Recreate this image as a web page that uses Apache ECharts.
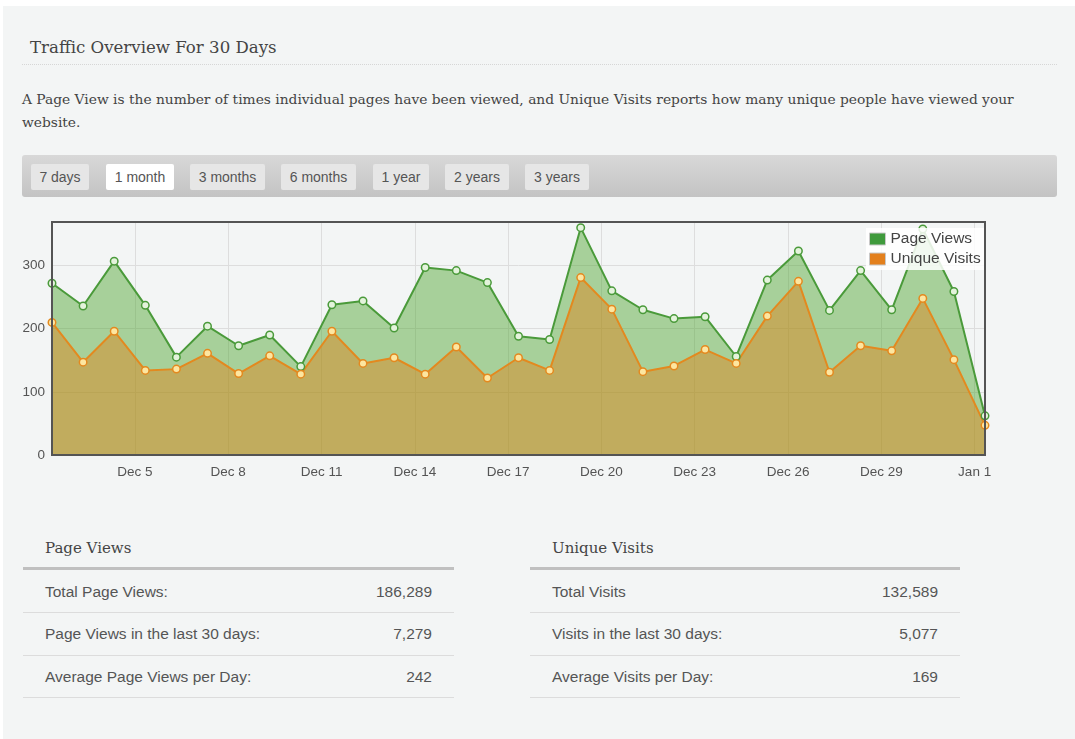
<!DOCTYPE html>
<html>
<head>
<meta charset="utf-8">
<script src="https://cdn.jsdelivr.net/npm/echarts@6/dist/echarts.min.js"></script>
<style>
html, body { margin: 0; padding: 0; width: 1075px; height: 739px; overflow: hidden; background: #f3f5f5; }
.abs { position: absolute; }
.serif { font-family: Georgia, 'DejaVu Serif', serif; color: #444; }
.sans { font-family: Arial, 'Liberation Sans', sans-serif; }
#title { left: 30px; top: 37px; font-size: 16.6px; line-height: 22px; white-space: nowrap; }
#rule { left: 22px; top: 64px; width: 1035px; height: 0; border-top: 1px dotted #d6d6d6; }
#para { left: 22px; top: 88px; font-size: 13.8px; line-height: 23px; white-space: nowrap; }
#toolbar { left: 22px; top: 155px; width: 1035px; height: 42px; border-radius: 3px;
  background: linear-gradient(#d8d8d8, #c3c3c3); }
.btn { top: 164px; height: 26px; line-height: 26px; text-align: center; font-size: 14px; color: #555;
  background: #e6e6e6; border-radius: 2px; }
.btn.active { background: #ffffff; }
#chart { left: 0; top: 200px; width: 1075px; height: 300px; }
.thead { font-size: 15px; line-height: 20px; }
.thick { height: 3px; background: #c0c0c0; }
.thin { height: 1px; background: #dcdcdc; }
.cell { font-size: 15.5px; color: #555; line-height: 20px; white-space: nowrap; }
</style>
</head>
<body>
<div class="abs" style="left:0;top:0;width:1075px;height:6px;background:#fff"></div>
<div class="abs" style="left:0;top:0;width:3px;height:739px;background:#fff"></div>
<div id="title" class="abs serif">Traffic Overview For 30 Days</div>
<div id="rule" class="abs"></div>
<div id="para" class="abs serif">A Page View is the number of times individual pages have been viewed, and Unique Visits reports how many unique people have viewed your<br>website.</div>
<div id="toolbar" class="abs"></div>
<div id="buttons"></div>
<div id="chart" class="abs"></div>
<div id="tables"></div>
<script>
// ---------- data ----------
const TZ_OFFSET_HOURS = 8;
const dates = ['2012-12-02','2012-12-03','2012-12-04','2012-12-05','2012-12-06','2012-12-07','2012-12-08',
  '2012-12-09','2012-12-10','2012-12-11','2012-12-12','2012-12-13','2012-12-14','2012-12-15','2012-12-16',
  '2012-12-17','2012-12-18','2012-12-19','2012-12-20','2012-12-21','2012-12-22','2012-12-23','2012-12-24',
  '2012-12-25','2012-12-26','2012-12-27','2012-12-28','2012-12-29','2012-12-30','2012-12-31','2013-01-01'];
const pageViews = [272,236,307,237,155,204,173,190,140,238,244,201,297,292,273,188,183,360,260,230,216,219,156,277,323,229,292,230,358,259,62];
const uniqueVisits = [210,147,196,134,136,161,129,157,128,196,145,154,128,171,122,154,134,281,231,132,141,167,145,220,275,131,173,165,248,151,47];
const xTickDates = ['2012-12-05','2012-12-08','2012-12-11','2012-12-14','2012-12-17','2012-12-20','2012-12-23','2012-12-26','2012-12-29','2013-01-01'];
const yTicks = [0, 100, 200, 300];
const yMax = 369;
const seriesNames = ['Page Views', 'Unique Visits'];
const rangeButtons = ['7 days', '1 month', '3 months', '6 months', '1 year', '2 years', '3 years'];
const activeButton = '1 month';
const pageViewStats = [['Total Page Views:', '186,289'], ['Page Views in the last 30 days:', '7,279'], ['Average Page Views per Day:', '242']];
const visitStats = [['Total Visits', '132,589'], ['Visits in the last 30 days:', '5,077'], ['Average Visits per Day:', '169']];
const MONTHS = ['Jan','Feb','Mar','Apr','May','Jun','Jul','Aug','Sep','Oct','Nov','Dec'];

// ---------- layout (HTML parts) ----------
const btnBoxes = [[31,58],[106,68],[190,75],[281,75],[373,56],[445,64],[525,64]];
const btnHost = document.getElementById('buttons');
rangeButtons.forEach((t, i) => {
  const d = document.createElement('div');
  d.className = 'abs sans btn' + (t === activeButton ? ' active' : '');
  d.style.left = btnBoxes[i][0] + 'px';
  d.style.width = btnBoxes[i][1] + 'px';
  d.textContent = t;
  btnHost.appendChild(d);
});

function buildTable(heading, rows, x0, width) {
  const host = document.getElementById('tables');
  const add = (cls, style, text) => {
    const d = document.createElement('div');
    d.className = 'abs ' + cls;
    Object.assign(d.style, style);
    if (text != null) d.textContent = text;
    host.appendChild(d);
  };
  add('serif thead', { left: (x0 + 22) + 'px', top: '538px' }, heading);
  add('thick', { left: x0 + 'px', top: '567px', width: width + 'px' });
  const rowCenters = [592, 634, 677];
  const dividers = [612, 655, 697];
  rows.forEach((r, i) => {
    add('sans cell', { left: (x0 + 22) + 'px', top: (rowCenters[i] - 10) + 'px' }, r[0]);
    add('sans cell', { left: x0 + 'px', width: (width - 22) + 'px', textAlign: 'right', top: (rowCenters[i] - 10) + 'px' }, r[1]);
    add('thin', { left: x0 + 'px', top: dividers[i] + 'px', width: width + 'px' });
  });
}
buildTable('Page Views', pageViewStats, 23, 431);
buildTable('Unique Visits', visitStats, 530, 430);

// ---------- chart ----------
const dayStart = s => Date.parse(s + 'T00:00:00Z');
const toTs = s => dayStart(s) + TZ_OFFSET_HOURS * 3600 * 1000;
const xTicks = xTickDates.map(dayStart);
const fmtDate = v => { const d = new Date(v); return MONTHS[d.getUTCMonth()] + ' ' + d.getUTCDate(); };

const chart = echarts.init(document.getElementById('chart'), null, { renderer: 'canvas' });
const labelStyle = { color: '#545454', fontSize: 13.5, fontFamily: 'Arial, "Liberation Sans", sans-serif' };
const gridLine = { show: true, lineStyle: { color: '#dddddd', width: 1 } };

chart.setOption({
  animation: false,
  backgroundColor: 'transparent',
  grid: { left: 52, top: 22, width: 933, height: 233, show: true, z: 10,
    borderColor: '#545454', borderWidth: 2, backgroundColor: 'transparent' },
  legend: {
    orient: 'vertical', left: 866, top: 28,
    itemWidth: 16, itemHeight: 12, itemGap: 4,
    backgroundColor: 'rgba(255,255,255,0.85)', padding: [3, 4, 3, 3],
    textStyle: { fontSize: 15.5, color: '#444', fontFamily: 'Arial, "Liberation Sans", sans-serif' },
    data: [
      { name: seriesNames[0], icon: 'rect', itemStyle: { color: '#3f9a3c', borderColor: '#c8c8c8', borderWidth: 1 } },
      { name: seriesNames[1], icon: 'rect', itemStyle: { color: '#e3801d', borderColor: '#c8c8c8', borderWidth: 1 } }
    ]
  },
  xAxis: {
    type: 'value', min: toTs(dates[0]), max: toTs(dates[dates.length - 1]),
    axisLine: { show: false },
    axisTick: { show: false, customValues: xTicks },
    axisLabel: Object.assign({ customValues: xTicks, formatter: fmtDate, margin: 10 }, labelStyle),
    splitLine: gridLine
  },
  yAxis: {
    type: 'value', min: 0, max: yMax,
    axisLine: { show: false },
    axisTick: { show: false, customValues: yTicks },
    axisLabel: Object.assign({ customValues: yTicks, margin: 7 }, labelStyle),
    splitLine: gridLine
  },
  series: [
    {
      name: seriesNames[0], type: 'line',
      data: dates.map((d, i) => [toTs(d), pageViews[i]]),
      symbol: 'circle', symbolSize: 7.5, showAllSymbol: true,
      lineStyle: { color: '#4a9a3a', width: 2 },
      itemStyle: { color: '#e4f3dc', borderColor: '#4a9a3a', borderWidth: 1.5 },
      areaStyle: { color: 'rgba(76,165,45,0.45)', opacity: 1 },
      emphasis: { disabled: true }
    },
    {
      name: seriesNames[1], type: 'line',
      data: dates.map((d, i) => [toTs(d), uniqueVisits[i]]),
      symbol: 'circle', symbolSize: 7.5, showAllSymbol: true,
      lineStyle: { color: '#e3891f', width: 2 },
      itemStyle: { color: '#fde6a0', borderColor: '#e3891f', borderWidth: 1.5 },
      areaStyle: { color: 'rgba(224,128,20,0.45)', opacity: 1 },
      emphasis: { disabled: true }
    }
  ]
});
</script>
</body>
</html>
